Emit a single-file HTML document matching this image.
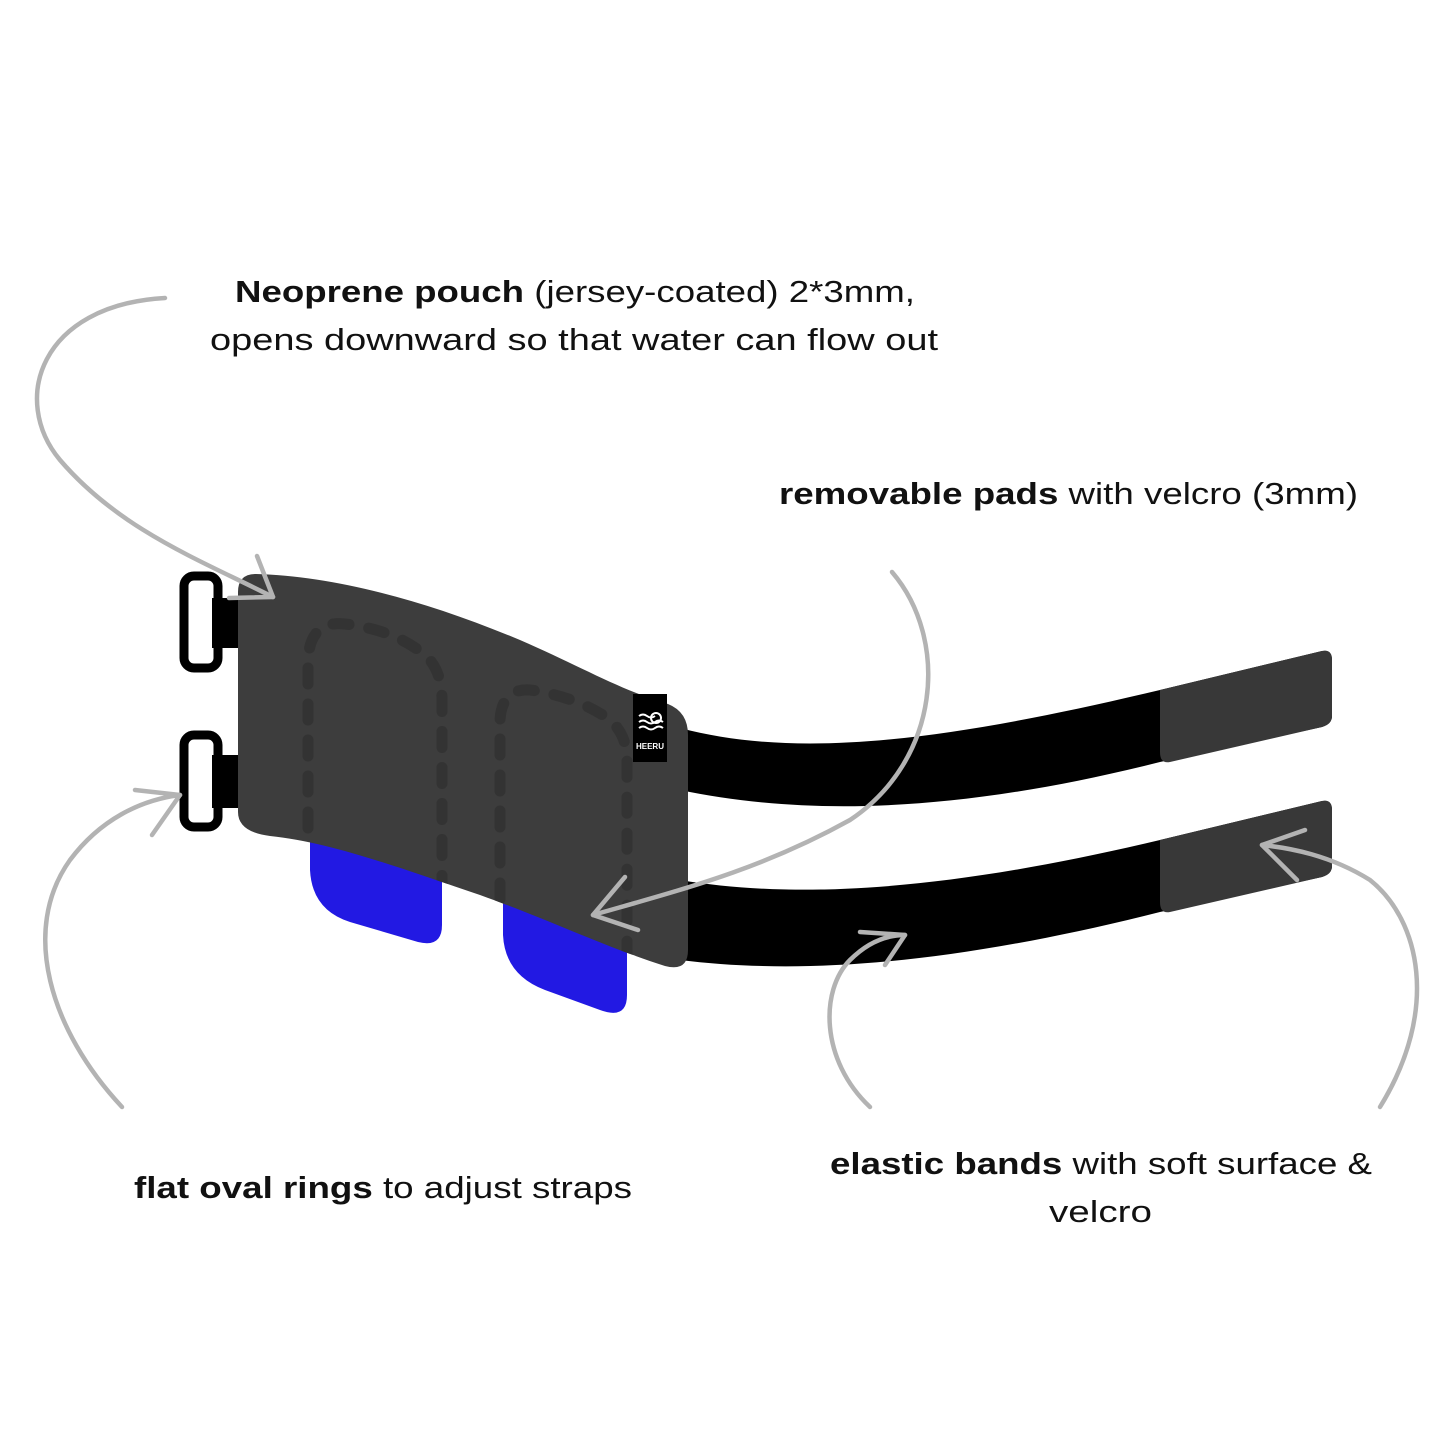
<!DOCTYPE html>
<html><head><meta charset="utf-8"><style>
html,body{margin:0;padding:0;background:#fff}
svg{display:block}
text{font-family:"Liberation Sans",sans-serif;font-size:31px;fill:#111}
</style></head><body>
<svg width="1445" height="1445" viewBox="0 0 1445 1445" xmlns="http://www.w3.org/2000/svg">
<defs>
<clipPath id="pc"><path d="M256 574 C330 576 420 598 520 640 C580 666 620 690 668 704 Q688 712 688 735 L688 950 Q688 972 665 966 C600 945 550 920 480 895 C400 868 330 842 270 836 Q238 832 238 812 L238 592 Q238 574 256 574 Z"/></clipPath>
</defs>
<rect width="1445" height="1445" fill="#fff"/>
<path d="M680 728 C800 760 950 740 1160 690 L1322 651 Q1332 649 1332 660 L1332 716 Q1332 724 1322 727 L1160 762 C950 815 800 815 680 790 Z" fill="#000"/>
<path d="M1160 690 L1322 651 Q1332 649 1332 660 L1332 716 Q1332 724 1322 727 L1170 762 Q1160 764 1160 752 Z" fill="#383838"/>
<path d="M680 880 C800 900 950 890 1160 840 L1322 801 Q1332 799 1332 810 L1332 866 Q1332 874 1322 877 L1160 912 C950 965 800 975 680 960 Z" fill="#000"/>
<path d="M1160 840 L1322 801 Q1332 799 1332 810 L1332 866 Q1332 874 1322 877 L1170 912 Q1160 914 1160 902 Z" fill="#383838"/>
<rect x="212" y="598" width="32" height="50" fill="#000"/>
<rect x="212" y="755" width="32" height="53" fill="#000"/>
<rect x="184" y="576" width="34" height="92" rx="10" fill="none" stroke="#000" stroke-width="9"/>
<rect x="184" y="735" width="34" height="92" rx="10" fill="none" stroke="#000" stroke-width="9"/>
<path d="M310 830 L442 830 L442 925 Q442 948 418 942 L350 922 Q312 910 310 870 Z" fill="#2219e3"/>
<path d="M503 880 L627 880 L627 995 Q627 1020 600 1010 L545 990 Q505 975 503 935 Z" fill="#2219e3"/>
<path d="M256 574 C330 576 420 598 520 640 C580 666 620 690 668 704 Q688 712 688 735 L688 950 Q688 972 665 966 C600 945 550 920 480 895 C400 868 330 842 270 836 Q238 832 238 812 L238 592 Q238 574 256 574 Z" fill="#3d3d3d"/>
<g clip-path="url(#pc)" fill="none" stroke="#333" stroke-width="11" stroke-linecap="round" stroke-dasharray="16 20">
<path d="M308 828 L308 660 Q310 620 345 624 C380 628 410 640 430 660 Q442 675 442 700 L442 905"/>
<path d="M500 935 L500 720 Q502 688 530 690 C560 694 590 705 610 720 Q627 735 627 760 L627 960"/>
</g>
<rect x="633" y="694" width="34" height="68" fill="#000"/>
<g fill="none" stroke="#fff" stroke-width="2">
<circle cx="656" cy="718" r="5"/>
<path d="M639 716 q4 -3 8 0 t8 0"/><path d="M639 722 q4 -3 8 0 t8 0 t8 0"/><path d="M639 728 q4 -3 8 0 t8 0 t8 0"/>
</g>
<text x="650" y="749" text-anchor="middle" style="font-size:8px;font-weight:bold;fill:#fff">HEERU</text>
<g fill="none" stroke="#b3b3b3" stroke-width="4.5" stroke-linecap="round">
<path d="M165 298 C40 305 10 400 60 460 C120 530 200 560 273 597"/>
<path d="M273 597 L257 556 M273 597 L229 598"/>
<path d="M892 572 C950 640 940 760 850 820 C760 870 680 890 593 915"/>
<path d="M593 915 L625 877 M593 915 L638 930"/>
<path d="M122 1107 C50 1030 20 930 70 860 C100 820 140 800 180 795"/>
<path d="M180 795 L135 790 M180 795 L152 835"/>
<path d="M870 1107 C820 1060 820 990 850 960 C870 940 890 935 905 935"/>
<path d="M905 935 L860 932 M905 935 L885 965"/>
<path d="M1380 1107 C1440 1010 1420 920 1370 880 C1330 855 1290 848 1262 845"/>
<path d="M1262 845 L1305 830 M1262 845 L1297 880"/>
</g>
<text x="235" y="302" textLength="680" lengthAdjust="spacingAndGlyphs"><tspan font-weight="bold">Neoprene pouch</tspan> (jersey-coated) 2*3mm,</text>
<text x="210" y="350" textLength="728" lengthAdjust="spacingAndGlyphs">opens downward so that water can flow out</text>
<text x="779" y="504" textLength="579" lengthAdjust="spacingAndGlyphs"><tspan font-weight="bold">removable pads</tspan> with velcro (3mm)</text>
<text x="134" y="1198" textLength="498" lengthAdjust="spacingAndGlyphs"><tspan font-weight="bold">flat oval rings</tspan> to adjust straps</text>
<text x="830" y="1174" textLength="542" lengthAdjust="spacingAndGlyphs"><tspan font-weight="bold">elastic bands</tspan> with soft surface &amp;</text>
<text x="1049" y="1222" textLength="103" lengthAdjust="spacingAndGlyphs">velcro</text>
</svg>
</body></html>
